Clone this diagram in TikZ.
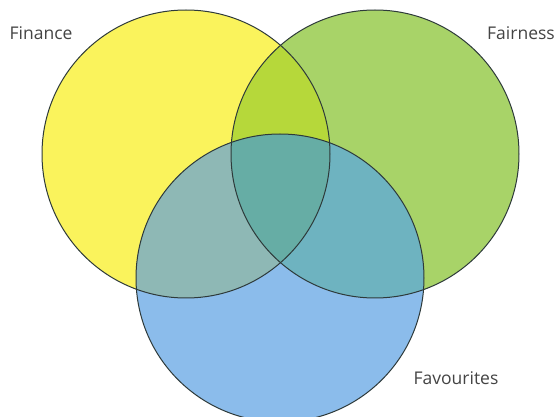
\documentclass[tikz,border=0pt]{standalone}
\usepackage{fontspec}
\setmainfont{Open Sans}
\usepackage{xcolor}
\usepackage{tikz}
\usetikzlibrary{positioning}
\definecolor{finyellow}{HTML}{FAF35C}
\definecolor{fairgreen}{HTML}{A8D368}
\definecolor{favblue}{HTML}{8BBCEB}
\definecolor{finfair}{HTML}{B6D83A}
\definecolor{finfav}{HTML}{8EB8B5}
\definecolor{fairfav}{HTML}{6EB3C0}
\definecolor{allthree}{HTML}{66ADA5}
\definecolor{ringgrey}{HTML}{2E3A3A}
\definecolor{labelgrey}{HTML}{444444}
\newcommand{\vennR}{144pt}

\begin{document}
\begin{tikzpicture}[x=1pt,y=-1pt,
    setlabel/.style={font=\fontsize{17.5}{20}\selectfont, text=labelgrey, inner sep=0pt},
    ring/.style={draw=ringgrey, line width=1pt}]
  \useasboundingbox[fill=white] (0,0) rectangle (558,417);
  \coordinate (fin) at (186,154);
  \coordinate (fair) at (375,154);
  \coordinate (fav) at (280,278);

  % the three sets
  \fill[finyellow] (fin) circle (\vennR);
  \fill[fairgreen] (fair) circle (\vennR);
  \fill[favblue] (fav) circle (\vennR);

  % pairwise overlaps
  \begin{scope}
    \clip (fin) circle (\vennR);
    \fill[finfair] (fair) circle (\vennR);
    \fill[finfav] (fav) circle (\vennR);
  \end{scope}
  \begin{scope}
    \clip (fair) circle (\vennR);
    \fill[fairfav] (fav) circle (\vennR);
    \clip (fin) circle (\vennR);
    \fill[allthree] (fav) circle (\vennR);
  \end{scope}

  \draw[ring] (fin) circle (\vennR);
  \draw[ring] (fair) circle (\vennR);
  \draw[ring] (fav) circle (\vennR);

  \node[setlabel] (finance) at (41,33) {Finance};
  \node[setlabel] (fairness) at (521,33) {Fairness};
  \node[setlabel] (favourites) at (456,378) {Favourites};
\end{tikzpicture}
\end{document}
